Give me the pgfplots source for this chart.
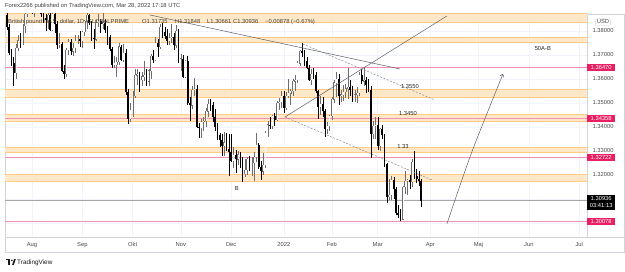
\documentclass[border=0pt]{standalone}
\usepackage{pgfplots}
\pgfplotsset{compat=1.18}
\usepackage{pgfplotstable}
\usepackage{fontspec}
\setmainfont{Liberation Sans}
\usetikzlibrary{arrows.meta}

\definecolor{gridc}{HTML}{F0F3FA}
\definecolor{framec}{HTML}{D1D4DC}
\definecolor{zonefill}{HTML}{FFE8C8}
\definecolor{zoneedge}{HTML}{FFCB87}
\definecolor{levelc}{HTML}{F48FB1}
\definecolor{tagc}{HTML}{E91E63}
\definecolor{upedge}{HTML}{6E6E6E}
\definecolor{txt}{HTML}{4A4A4A}
\definecolor{drawc}{HTML}{5D606B}
\definecolor{lastc}{HTML}{A8A8A8}

\newcommand{\tvfont}{\fontsize{5.8}{6.5}\selectfont}

% GBPUSD daily bars, x = trading-day index (0 = 2 Aug 2021)
\pgfplotstableread{
i O H L C
-11 1.3868 1.3878 1.3805 1.3815
-10 1.3815 1.3830 1.3700 1.3710
-9 1.3710 1.3725 1.3655 1.3668
-8 1.3668 1.3690 1.3572 1.3625
-7 1.3625 1.3745 1.3600 1.3730
-6 1.3730 1.3785 1.3715 1.3760
-5 1.3760 1.3790 1.3730 1.3750
-4 1.3750 1.3830 1.3740 1.3820
-3 1.3820 1.3890 1.3790 1.3870
-2 1.3870 1.3985 1.3860 1.3960
-1 1.3960 1.3985 1.3880 1.3900
0 1.3900 1.3950 1.3870 1.3880
1 1.3880 1.3925 1.3860 1.3915
2 1.3915 1.3985 1.3880 1.3930
3 1.3930 1.3960 1.3890 1.3920
4 1.3920 1.3930 1.3860 1.3870
5 1.3870 1.3885 1.3835 1.3855
6 1.3855 1.3870 1.3800 1.3845
7 1.3845 1.3875 1.3810 1.3865
8 1.3865 1.3880 1.3800 1.3805
9 1.3805 1.3875 1.3800 1.3870
10 1.3870 1.3875 1.3790 1.3830
11 1.3830 1.3840 1.3725 1.3740
12 1.3740 1.3790 1.3730 1.3745
13 1.3745 1.3755 1.3630 1.3635
14 1.3635 1.3660 1.3602 1.3620
15 1.3620 1.3730 1.3610 1.3720
16 1.3720 1.3765 1.3700 1.3755
17 1.3755 1.3765 1.3700 1.3715
18 1.3715 1.3750 1.3695 1.3730
19 1.3730 1.3785 1.3710 1.3760
20 1.3760 1.3785 1.3745 1.3765
21 1.3765 1.3800 1.3735 1.3760
22 1.3760 1.3800 1.3730 1.3795
23 1.3795 1.3845 1.3780 1.3840
24 1.3840 1.3890 1.3810 1.3865
25 1.3865 1.3870 1.3825 1.3835
26 1.3835 1.3840 1.3760 1.3770
27 1.3770 1.3810 1.3725 1.3765
28 1.3765 1.3845 1.3760 1.3835
29 1.3835 1.3870 1.3815 1.3840
30 1.3840 1.3850 1.3790 1.3830
31 1.3830 1.3890 1.3810 1.3835
32 1.3835 1.3850 1.3790 1.3805
33 1.3805 1.3820 1.3740 1.3775
34 1.3775 1.3785 1.3715 1.3725
35 1.3725 1.3735 1.3645 1.3660
36 1.3660 1.3695 1.3645 1.3665
37 1.3660 1.3690 1.3610 1.3670
38 1.3670 1.3750 1.3660 1.3735
39 1.3735 1.3740 1.3675 1.3680
40 1.3680 1.3745 1.3670 1.3710
41 1.3710 1.3725 1.3535 1.3545
42 1.3545 1.3560 1.3412 1.3435
43 1.3435 1.3500 1.3420 1.3470
44 1.3470 1.3550 1.3440 1.3530
45 1.3530 1.3640 1.3520 1.3615
46 1.3615 1.3640 1.3575 1.3620
47 1.3620 1.3630 1.3545 1.3595
48 1.3595 1.3630 1.3570 1.3610
49 1.3610 1.3675 1.3590 1.3615
50 1.3615 1.3640 1.3570 1.3590
51 1.3590 1.3640 1.3570 1.3635
52 1.3635 1.3705 1.3600 1.3695
53 1.3695 1.3720 1.3665 1.3680
54 1.3680 1.3775 1.3675 1.3750
55 1.3750 1.3765 1.3690 1.3735
56 1.3735 1.3830 1.3725 1.3815
57 1.3815 1.3834 1.3770 1.3795
58 1.3795 1.3815 1.3765 1.3780
59 1.3780 1.3810 1.3740 1.3760
60 1.3760 1.3790 1.3740 1.3770
61 1.3770 1.3830 1.3750 1.3775
62 1.3775 1.3790 1.3720 1.3740
63 1.3740 1.3825 1.3730 1.3800
64 1.3800 1.3810 1.3665 1.3680
65 1.3680 1.3705 1.3635 1.3685
66 1.3685 1.3700 1.3605 1.3610
67 1.3610 1.3680 1.3605 1.3675
68 1.3675 1.3695 1.3490 1.3500
69 1.3500 1.3525 1.3425 1.3490
70 1.3490 1.3570 1.3475 1.3555
71 1.3555 1.3605 1.3530 1.3560
72 1.3560 1.3575 1.3395 1.3400
73 1.3400 1.3415 1.3355 1.3395
74 1.3395 1.3435 1.3355 1.3420
75 1.3420 1.3440 1.3385 1.3425
76 1.3425 1.3480 1.3400 1.3465
77 1.3465 1.3515 1.3440 1.3495
78 1.3495 1.3515 1.3465 1.3490
79 1.3490 1.3505 1.3420 1.3440
80 1.3440 1.3475 1.3385 1.3400
81 1.3400 1.3415 1.3345 1.3365
82 1.3365 1.3375 1.3315 1.3345
83 1.3345 1.3370 1.3278 1.3320
84 1.3320 1.3380 1.3280 1.3335
85 1.3335 1.3375 1.3300 1.3310
86 1.3310 1.3370 1.3195 1.3295
87 1.3295 1.3370 1.3255 1.3260
88 1.3260 1.3315 1.3230 1.3285
89 1.3285 1.3305 1.3210 1.3265
90 1.3265 1.3300 1.3240 1.3285
91 1.3285 1.3295 1.3230 1.3240
92 1.3240 1.3275 1.3172 1.3205
93 1.3205 1.3265 1.3190 1.3220
94 1.3220 1.3275 1.3200 1.3265
95 1.3265 1.3280 1.3215 1.3235
96 1.3235 1.3275 1.3195 1.3250
97 1.3250 1.3295 1.3175 1.3275
98 1.3275 1.3375 1.3255 1.3325
99 1.3325 1.3335 1.3225 1.3235
100 1.3235 1.3260 1.3178 1.3215
101 1.3215 1.3290 1.3200 1.3240
102 1.3240 1.3385 1.3230 1.3375
103 1.3375 1.3425 1.3360 1.3410
104 1.3410 1.3440 1.3390 1.3405
105 1.3405 1.3450 1.3390 1.3445
106 1.3445 1.3460 1.3405 1.3430
107 1.3430 1.3510 1.3425 1.3500
108 1.3500 1.3520 1.3470 1.3505
109 1.3505 1.3550 1.3480 1.3530
110 1.3530 1.3550 1.3460 1.3480
111 1.3480 1.3545 1.3470 1.3530
112 1.3530 1.3600 1.3520 1.3540
113 1.3540 1.3560 1.3490 1.3550
114 1.3550 1.3600 1.3530 1.3590
115 1.3590 1.3615 1.3550 1.3595
116 1.3595 1.3675 1.3585 1.3665
117 1.3665 1.3720 1.3655 1.3715
118 1.3715 1.3749 1.3690 1.3710
119 1.3710 1.3720 1.3655 1.3675
120 1.3675 1.3690 1.3640 1.3645
121 1.3645 1.3660 1.3590 1.3595
122 1.3595 1.3640 1.3575 1.3620
123 1.3620 1.3645 1.3600 1.3615
124 1.3615 1.3630 1.3540 1.3550
125 1.3550 1.3555 1.3435 1.3485
126 1.3485 1.3530 1.3450 1.3495
127 1.3495 1.3525 1.3440 1.3465
128 1.3465 1.3475 1.3358 1.3390
129 1.3390 1.3420 1.3370 1.3405
130 1.3405 1.3450 1.3385 1.3445
131 1.3445 1.3525 1.3430 1.3515
132 1.3515 1.3595 1.3500 1.3585
133 1.3585 1.3630 1.3525 1.3600
134 1.3600 1.3620 1.3490 1.3530
135 1.3530 1.3555 1.3505 1.3535
136 1.3535 1.3575 1.3510 1.3545
137 1.3545 1.3580 1.3520 1.3560
138 1.3560 1.3645 1.3515 1.3565
139 1.3565 1.3595 1.3530 1.3555
140 1.3555 1.3570 1.3505 1.3525
141 1.3525 1.3555 1.3505 1.3535
142 1.3535 1.3565 1.3500 1.3540
143 1.3540 1.3630 1.3530 1.3615
144 1.3615 1.3640 1.3580 1.3590
145 1.3590 1.3647 1.3570 1.3595
146 1.3595 1.3610 1.3540 1.3575
147 1.3575 1.3600 1.3545 1.3555
148 1.3555 1.3570 1.32722 1.3370
149 1.3370 1.3425 1.3350 1.3405
150 1.3405 1.3440 1.3350 1.3410
151 1.3410 1.3440 1.3305 1.3320
152 1.3320 1.3395 1.3300 1.3390
153 1.3390 1.3410 1.3350 1.3365
154 1.3365 1.3370 1.3235 1.3245
155 1.3245 1.3250 1.3085 1.3110
156 1.3110 1.3185 1.3095 1.3115
157 1.3115 1.3195 1.3095 1.3180
158 1.3180 1.3190 1.3100 1.3140
159 1.3140 1.3150 1.3035 1.3040
160 1.3040 1.3075 1.3020 1.3035
161 1.3035 1.3060 1.30078 1.3015
162 1.3015 1.3155 1.3012 1.3150
163 1.3150 1.3215 1.3120 1.3175
164 1.3175 1.3185 1.3115 1.3180
165 1.3180 1.3200 1.3140 1.3170
166 1.3170 1.3265 1.3150 1.3255
167 1.3255 1.3298 1.3185 1.3195
168 1.3195 1.3225 1.3165 1.3185
169 1.3185 1.3215 1.3155 1.31735
170 1.31735 1.31848 1.30661 1.30936
}\ohlc

% horizontal supply/demand zone between two prices
\newcommand{\zone}[2]{%
  \addplot[fill=zonefill, draw=none] coordinates {(-12,#1) (243,#1) (243,#2) (-12,#2)} -- cycle;
  \addplot[draw=zoneedge, line width=0.6pt] coordinates {(-12,#1) (243,#1)};
  \addplot[draw=zoneedge, line width=0.6pt] coordinates {(-12,#2) (243,#2)};}
% horizontal price level
\newcommand{\pricelevel}[2]{%
  \addplot[draw=#2, line width=0.7pt] coordinates {(-12,#1) (243,#1)};}
% price tag on the right-hand scale
\newcommand{\pricetag}[2]{%
  \node[anchor=west, fill=#2, text=white, font=\tvfont, inner sep=0pt,
        minimum width=28pt, minimum height=7pt] at (axis cs:242.4,#1) {#1};}

\begin{document}
\begin{tikzpicture}
\fill[white] (0,0) rectangle (625pt,271pt);
\useasboundingbox (0,0) rectangle (625pt,271pt);
% outer frame of the chart pane, time scale and price scale
\draw[framec, line width=0.5pt] (5pt,19pt) rectangle (624.5pt,257pt);
\draw[framec, line width=0.5pt] (587pt,34pt) -- (624.5pt,34pt);

\begin{axis}[
  at={(5pt,34pt)}, anchor=south west,
  scale only axis, width=582pt, height=223pt,
  xmin=-11.79, xmax=242.4, ymin=1.29417, ymax=1.38708,
  clip mode=individual,
  axis line style={draw=framec, line width=0.5pt},
  tick style={draw=none},
  grid=major, major grid style={draw=gridc, line width=0.6pt},
  xtick={0,22,44,65,87,110,131,151,174,195,217,239},
  xticklabels={Aug,Sep,Okt,Nov,Dec,2022,Feb,Mar,Apr,Maj,Jun,Jul},
  ytick={1.30,1.31,1.32,1.33,1.34,1.35,1.36,1.37,1.38},
  yticklabels={,,1.32000,1.33000,1.34000,1.35000,1.36000,1.37000,1.38000},
  yticklabel pos=right,
  ticklabel style={font=\tvfont, text=txt},
  xticklabel style={anchor=base, yshift=-9pt},
  yticklabel style={anchor=center, xshift=16pt},
]
% zones
\zone{1.3835}{1.3875}
\zone{1.37529}{1.37737}
\zone{1.3525}{1.35583}
\zone{1.3425}{1.34542}
\zone{1.32958}{1.33167}
\zone{1.3175}{1.32042}
% levels
\pricelevel{1.3647}{levelc}
\pricelevel{1.34358}{levelc}
\pricelevel{1.32722}{levelc}
\pricelevel{1.30078}{levelc}
\pricelevel{1.30936}{lastc}

% up candles: wick, outline, hollow body
\addplot[draw=none, mark=none,
  restrict expr to domain={\thisrow{C}-\thisrow{O}}{0:1},
  error bars/.cd, y dir=both, y explicit, error mark=none,
  error bar style={draw=upedge, line width=0.45pt}]
  table[x=i, y=C, y error plus expr=\thisrow{H}-\thisrow{C},
        y error minus expr=\thisrow{C}-\thisrow{L}] {\ohlc};
\addplot[draw=none, mark=none,
  restrict expr to domain={\thisrow{C}-\thisrow{O}}{0:1},
  error bars/.cd, y dir=both, y explicit, error mark=none,
  error bar style={draw=upedge, line width=1.7pt}]
  table[x=i, y=C, y error plus expr=0.00012,
        y error minus expr=\thisrow{C}-\thisrow{O}+0.00012] {\ohlc};
\addplot[draw=none, mark=none,
  restrict expr to domain={\thisrow{C}-\thisrow{O}}{0:1},
  error bars/.cd, y dir=both, y explicit, error mark=none,
  error bar style={draw=white, line width=0.7pt}]
  table[x=i, y=C, y error plus expr=0,
        y error minus expr=\thisrow{C}-\thisrow{O}] {\ohlc};
% down candles: wick and solid body
\addplot[draw=none, mark=none,
  restrict expr to domain={\thisrow{C}-\thisrow{O}}{-1:-0.00001},
  error bars/.cd, y dir=both, y explicit, error mark=none,
  error bar style={draw=black, line width=0.45pt}]
  table[x=i, y=C, y error plus expr=\thisrow{H}-\thisrow{C},
        y error minus expr=\thisrow{C}-\thisrow{L}] {\ohlc};
\addplot[draw=none, mark=none,
  restrict expr to domain={\thisrow{C}-\thisrow{O}}{-1:-0.00001},
  error bars/.cd, y dir=both, y explicit, error mark=none,
  error bar style={draw=black, line width=1.7pt}]
  table[x=i, y=C, y error plus expr=\thisrow{O}-\thisrow{C},
        y error minus expr=0] {\ohlc};

% trend lines and projection
\addplot[draw=drawc, line width=0.5pt] coordinates {(51.5,1.38667) (160.7,1.36417)};
\addplot[draw=drawc!75, line width=0.5pt, dash pattern=on 2pt off 1.5pt] coordinates {(118.3,1.37458) (176,1.35125)};
\addplot[draw=drawc, line width=0.5pt] coordinates {(110.5,1.34417) (181.2,1.38625)};
\addplot[draw=drawc!75, line width=0.5pt, dash pattern=on 2pt off 1.5pt] coordinates {(110.5,1.34417) (174.7,1.31792)};
\addplot[draw=drawc, line width=0.5pt, smooth, -{Straight Barb[length=2.5pt,width=4.5pt]}]
  coordinates {(181.2,1.29958) (192.1,1.32958) (205.7,1.36208)};

% annotations
\node[font=\tvfont, text=black!85] at (axis cs:89.5,1.31458) {B};
\node[font=\tvfont, text=black!85] at (axis cs:162,1.33167) {1.33};
\node[font=\tvfont, text=black!85] at (axis cs:164.2,1.34583) {1.3450};
\node[font=\tvfont, text=black!85] at (axis cs:165.1,1.35667) {1.3550};
\node[font=\tvfont, text=black!85] at (axis cs:223.1,1.3725) {50A-B};

% price scale tags
\pricetag{1.36470}{tagc}
\pricetag{1.34358}{tagc}
\pricetag{1.32722}{tagc}
\pricetag{1.30078}{tagc}
\node[anchor=west, fill=black, text=white, font=\tvfont, inner sep=0pt,
      minimum width=28pt, minimum height=15pt, align=center, yshift=-1.5pt]
      at (axis cs:242.4,1.30936) {1.30936\\03:41:13};
\end{axis}

% price scale currency
\node[draw=framec, rounded corners=1pt, font=\tvfont, text=txt, inner sep=1.2pt] at (603pt,249pt) {USD};

% header
\node[anchor=base west, font=\tvfont, text=black!75, inner sep=0pt] at (5pt,263pt)
  {Forex2266 published on TradingView.com, Mar 28, 2022 17:18 UTC};
\begin{scope}[every node/.style={anchor=base west, font=\tvfont, text=black!75, inner sep=0pt}]
\node at (8pt,247.5pt) {British pound / U.S. dollar, 1D, GLOBALPRIME};
\node at (142pt,247.5pt) {O1.31735};
\node at (175pt,247.5pt) {H1.31848};
\node at (207pt,247.5pt) {L1.30661};
\node at (233pt,247.5pt) {C1.30936};
\node at (265pt,247.5pt) {−0.00878 (−0.67\%)};
\end{scope}

% footer logo
\fill[black!90] (6pt,12pt) rectangle (10.4pt,10.6pt);
\fill[black!90] (8.2pt,10.6pt) rectangle (10.4pt,6.2pt);
\fill[black!90] (11.9pt,10.7pt) circle (0.9pt);
\fill[black!90] (12.2pt,6.2pt) -- (13.9pt,6.2pt) -- (15.8pt,12pt) -- (14.1pt,12pt) -- cycle;
\node[anchor=base west, font=\fontsize{6.4}{7}\selectfont, text=black!90, inner sep=0pt] at (17pt,7pt) {TradingView};
\end{tikzpicture}
\end{document}
